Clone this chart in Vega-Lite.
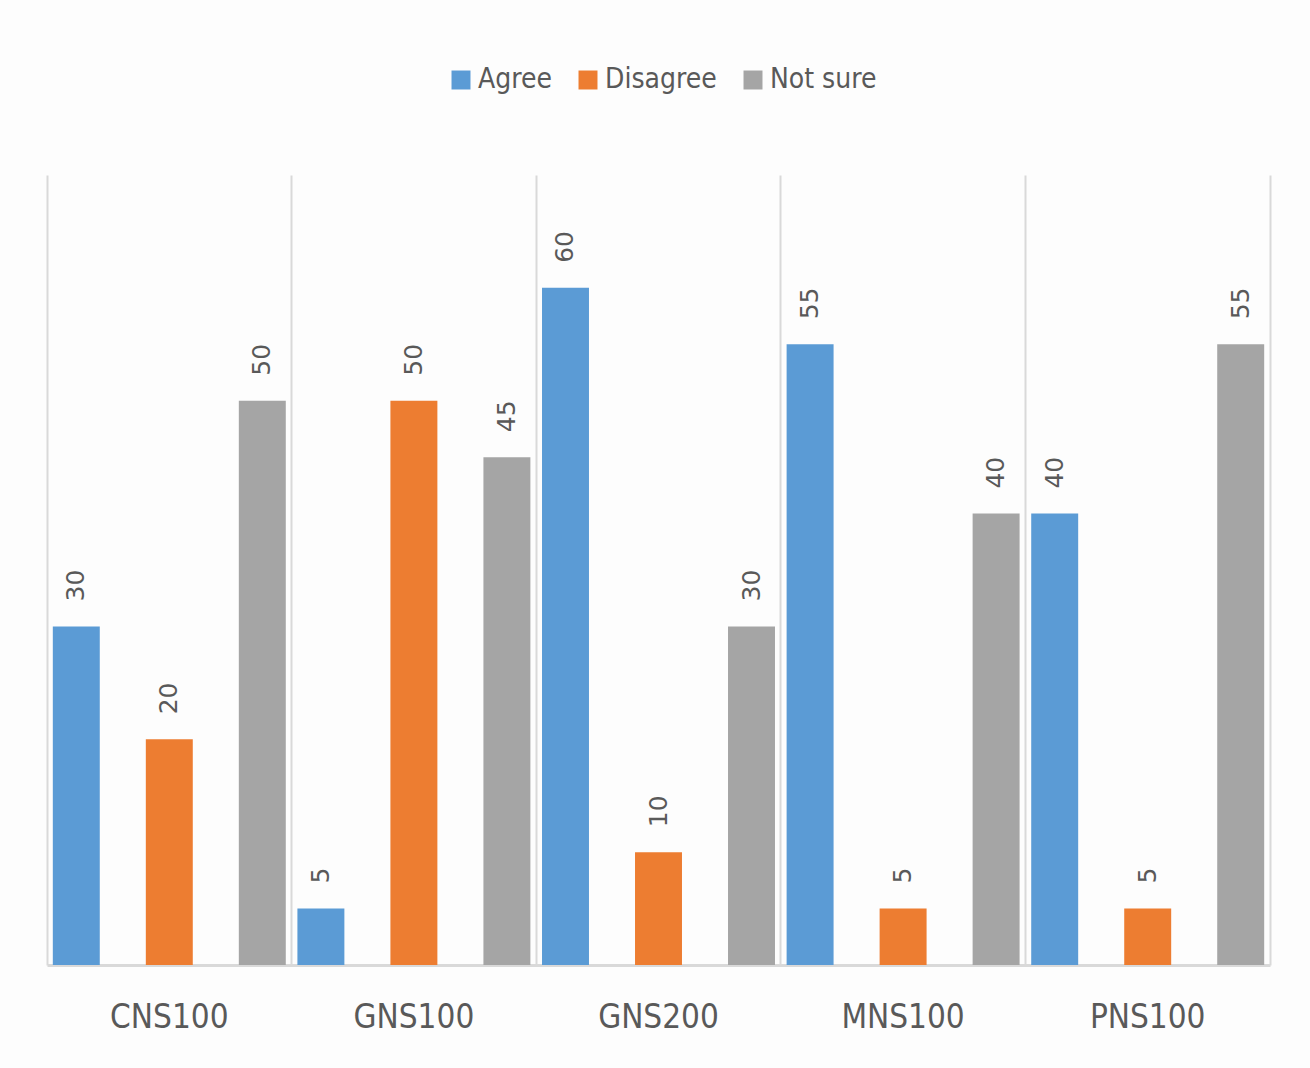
{
  "$schema": "https://vega.github.io/schema/vega-lite/v6.json",
  "autosize": {"type": "none"},
  "width": 1223,
  "height": 790,
  "padding": {"left": 47, "top": 175, "right": 40, "bottom": 103},
  "background": "#fdfdfd",
  "data": {
    "values": [
      {"group": "CNS100", "answer": "Agree", "pct": 30},
      {"group": "CNS100", "answer": "Disagree", "pct": 20},
      {"group": "CNS100", "answer": "Not sure", "pct": 50},
      {"group": "GNS100", "answer": "Agree", "pct": 5},
      {"group": "GNS100", "answer": "Disagree", "pct": 50},
      {"group": "GNS100", "answer": "Not sure", "pct": 45},
      {"group": "GNS200", "answer": "Agree", "pct": 60},
      {"group": "GNS200", "answer": "Disagree", "pct": 10},
      {"group": "GNS200", "answer": "Not sure", "pct": 30},
      {"group": "MNS100", "answer": "Agree", "pct": 55},
      {"group": "MNS100", "answer": "Disagree", "pct": 5},
      {"group": "MNS100", "answer": "Not sure", "pct": 40},
      {"group": "PNS100", "answer": "Agree", "pct": 40},
      {"group": "PNS100", "answer": "Disagree", "pct": 5},
      {"group": "PNS100", "answer": "Not sure", "pct": 55}
    ]
  },
  "encoding": {
    "x": {
      "field": "group",
      "type": "nominal",
      "sort": null,
      "scale": {"paddingInner": 0, "paddingOuter": 0},
      "axis": {
        "title": null,
        "labelAngle": 0,
        "bandPosition": 0,
        "labelFont": "DejaVu Sans Condensed, sans-serif",
        "labelFontSize": 33,
        "labelColor": "#595959",
        "labelPadding": 36,
        "ticks": false,
        "domainColor": "#d9d9d9",
        "domainWidth": 3,
        "grid": true,
        "gridColor": "#d9d9d9",
        "gridWidth": 2
      }
    },
    "xOffset": {
      "field": "answer",
      "type": "nominal",
      "scale": {"paddingInner": 0.495, "paddingOuter": 0.0625}
    },
    "y": {
      "field": "pct",
      "type": "quantitative",
      "scale": {"domain": [0, 70], "nice": false},
      "axis": {
        "orient": "right",
        "title": null,
        "labels": false,
        "ticks": false,
        "grid": false,
        "domainColor": "#d9d9d9",
        "domainWidth": 2
      }
    }
  },
  "layer": [
    {
      "mark": {"type": "bar"},
      "encoding": {
        "color": {
          "field": "answer",
          "type": "nominal",
          "scale": {
            "domain": ["Agree", "Disagree", "Not sure"],
            "range": ["#5b9bd5", "#ed7d31", "#a5a5a5"]
          },
          "legend": {
            "title": null,
            "orient": "none",
            "direction": "horizontal",
            "legendX": 400,
            "legendY": -109,
            "symbolType": "square",
            "symbolSize": 360,
            "symbolStrokeWidth": 0,
            "labelFont": "DejaVu Sans Condensed, sans-serif",
            "labelFontSize": 28,
            "labelColor": "#595959",
            "labelOffset": 3,
            "columnPadding": 22
          }
        }
      }
    },
    {
      "mark": {
        "type": "text",
        "angle": 270,
        "align": "left",
        "baseline": "middle",
        "dx": 25,
        "font": "DejaVu Sans, sans-serif",
        "fontSize": 25,
        "color": "#595959"
      },
      "encoding": {
        "text": {"field": "pct", "type": "quantitative"}
      }
    }
  ],
  "config": {"view": {"stroke": null}}
}
